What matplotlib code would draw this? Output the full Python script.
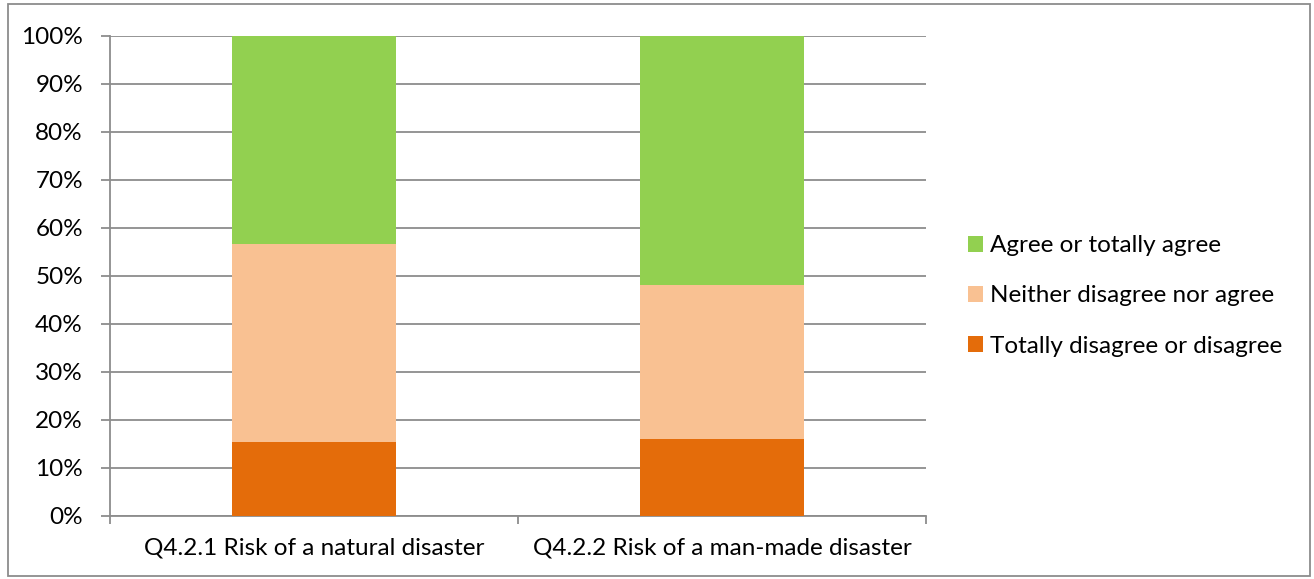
import matplotlib.pyplot as plt
import numpy as np
from matplotlib.patches import Rectangle

plt.rcParams['font.family'] = ['Lato', 'DejaVu Sans']

categories = ["Q4.2.1 Risk of a natural disaster", "Q4.2.2 Risk of a man-made disaster"]
disagree = [15.3, 15.9]
neither = [41.3, 32.1]
agree = [43.4, 52.0]
series_names = ["Totally disagree or disagree", "Neither disagree nor agree", "Agree or totally agree"]
colors = ["#E46C0A", "#F9C192", "#92D050"]

fs = 17.5
fig = plt.figure(figsize=(13.14, 5.79), dpi=100)
ax = fig.add_axes([110 / 1314, 1 - 515.5 / 579, 816 / 1314, 480 / 579])

x = np.arange(len(categories))
bottom = np.zeros(len(categories))
handles = []
for vals, name, c in zip([disagree, neither, agree], series_names, colors):
    h = ax.bar(x, vals, width=0.4, bottom=bottom, color=c, label=name, zorder=3)
    handles.append(h)
    bottom += np.array(vals)

ax.set_xlim(-0.5, len(categories) - 0.5)
ax.set_ylim(0, 100)
ax.set_yticks(np.arange(0, 101, 10))
ax.set_yticklabels([f"{v}%" for v in range(0, 101, 10)], fontsize=fs)
ax.yaxis.grid(True, color="#8C8C8C", linewidth=1.3, zorder=0)

# category separators on the x axis
ax.set_xticks(np.arange(-0.5, len(categories), 1.0))
ax.set_xticklabels([])
ax.set_xticks(x, minor=True)
ax.set_xticklabels(categories, minor=True, fontsize=fs)
ax.tick_params(axis='x', which='minor', length=0, pad=16)
ax.tick_params(axis='x', which='major', length=6, color="#8C8C8C", width=1.3)
ax.tick_params(axis='y', length=6.5, color="#8C8C8C", width=1.3, pad=13)

for s in ["top", "right"]:
    ax.spines[s].set_visible(False)
for s in ["left", "bottom"]:
    ax.spines[s].set_color("#8C8C8C")
    ax.spines[s].set_linewidth(1.3)

leg = fig.legend(handles[::-1], series_names[::-1], loc="center left",
                 bbox_to_anchor=(968 / 1314, 1 - 296 / 579), frameon=False,
                 fontsize=fs, handlelength=0.62, handleheight=0.62,
                 handletextpad=0.3, labelspacing=1.2, borderpad=0,
                 borderaxespad=0)

fig.patches.append(Rectangle((8 / 1314, 3 / 579), 1302 / 1314, 572 / 579,
                             transform=fig.transFigure, fill=False,
                             edgecolor="#8C8C8C", linewidth=1.3))

fig.savefig("out.png", dpi=100)
